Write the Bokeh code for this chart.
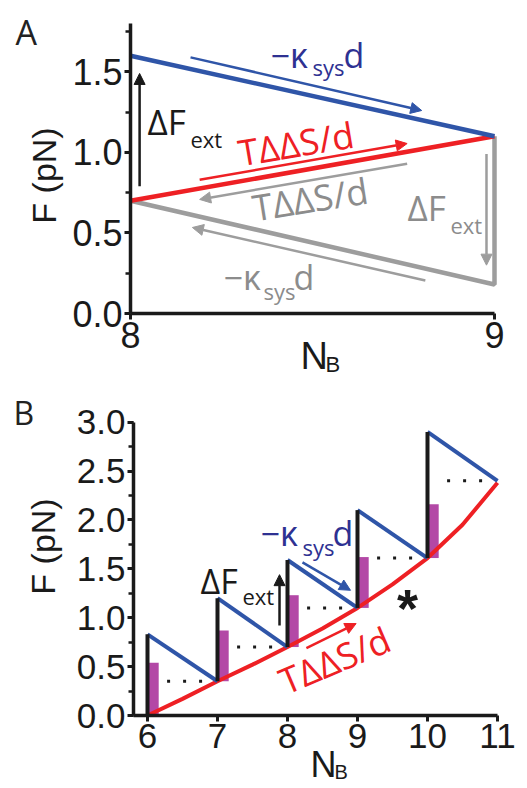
import math
from bokeh.plotting import figure
from bokeh.layouts import column
from bokeh.models import (Label, Arrow, NormalHead, SingleIntervalTicker,
                          Range1d, PrintfTickFormatter)
from bokeh.embed import file_html
from bokeh.resources import INLINE

# ---------------- data: panel A ----------------
A_N = [8, 9]
A_blue = [1.6, 1.1]        # -k_sys d  (after force jump)
A_red = [0.7, 1.1]         # T dd S / d
A_gray = [0.7, 0.18]       # reverse -k_sys d
# arrows (x0, y0, x1, y1)
A_arrow_black = [8.025, 0.79, 8.025, 1.49]
A_arrow_blue = [8.165, 1.59, 8.80, 1.26]
A_arrow_red = [8.19, 0.83, 8.76, 1.055]
A_arrow_gray_t = [8.76, 0.93, 8.19, 0.708]
A_arrow_gray_v = [8.978, 0.99, 8.978, 0.30]
A_arrow_gray_k = [8.81, 0.205, 8.17, 0.534]

# ---------------- data: panel B ----------------
B_red_N = [6, 6.5, 7, 7.5, 8, 8.5, 9, 9.5, 10, 10.5, 11]
B_red_F = [0.0, 0.17, 0.35, 0.52, 0.70, 0.89, 1.10, 1.34, 1.61, 1.95, 2.38]
B_N = [6, 7, 8, 9, 10]
B_low = [0.0, 0.35, 0.70, 1.10, 1.61]      # F before jump
B_top = [0.83, 1.20, 1.59, 2.10, 2.90]     # F after jump
B_next = [0.35, 0.70, 1.10, 1.61, 2.40]    # F at N+1
B_bar = [0.54, 0.87, 1.23, 1.62, 2.16]     # magenta bar tops
B_arrow_black = [7.886, 0.92, 7.886, 1.44]
B_arrow_blue = [8.214, 1.566, 8.90, 1.28]
B_arrow_red = [8.27, 0.69, 8.98, 0.94]

BLUE = "#2f55a8"
BLUE_T = "#2e3192"
RED = "#ee2024"
GRAY = "#9d9d9d"
GRAY_T = "#8c8c8c"
BLACK = "#1a1a1a"
MAG = "#b348a6"
LFONT = "Open Sans"
NFONT = "Liberation Sans"

W = 527
HA = 390
HB = 396


def style_axes(p, xint, yint, fs, xloc, yloc, xb, yb):
    p.xaxis.ticker = SingleIntervalTicker(interval=xint, num_minor_ticks=0)
    p.yaxis.ticker = SingleIntervalTicker(interval=yint, num_minor_ticks=2)
    p.yaxis.formatter = PrintfTickFormatter(format="%.1f")
    p.xaxis.formatter = PrintfTickFormatter(format="%d")
    p.xaxis.fixed_location = xloc
    p.yaxis.fixed_location = yloc
    p.xaxis.bounds = xb
    p.yaxis.bounds = yb
    for ax in (p.xaxis, p.yaxis):
        ax.axis_line_width = 3.5
        ax.axis_line_color = BLACK
        ax.major_tick_line_width = 3
        ax.major_tick_line_color = BLACK
        ax.minor_tick_line_width = 2.5
        ax.minor_tick_line_color = BLACK
        ax.major_tick_in = 0
        ax.major_tick_out = 6
        ax.minor_tick_in = 0
        ax.minor_tick_out = 5
        ax.major_label_text_font = NFONT
        ax.major_label_text_font_size = fs
        ax.major_label_text_color = BLACK
        ax.major_label_standoff = 2
    p.grid.visible = False
    p.outline_line_color = None


def arrow(p, a, color, w=2.5, size=11):
    p.add_layout(Arrow(x_start=a[0], y_start=a[1], x_end=a[2], y_end=a[3],
                       line_color=color, line_width=w,
                       end=NormalHead(size=size, fill_color=color,
                                      line_color=color, line_width=1)))


def lab(p, conv, px, py, text, size, color, font=LFONT, angle=0.0,
        align="left", baseline="alphabetic", style="normal"):
    if baseline == "alphabetic":
        # compensate for the renderer placing alphabetic text low
        d = 0.25 * float(size.replace("px", "")) + 2.5
        px -= math.sin(angle) * d
        py -= math.cos(angle) * d
    x, y = conv(px, py)
    p.add_layout(Label(x=x, y=y, text=text, text_font=font,
                       text_font_size=size, text_color=color,
                       angle=angle, text_align=align, text_baseline=baseline,
                       text_font_style=style))


# ================= Panel A =================
# page pixel -> data mapping (panel A canvas covers page y 0..HA)
def cA(px, py):
    return 8 + (px - 130) / 364.0, (313 - py) / 161.1


ax0, ay1 = cA(0, 0)
ax1, ay0 = cA(W, HA)
pA = figure(width=W, height=HA,
            x_range=Range1d(ax0, ax1), y_range=Range1d(ay0, ay1),
            min_border=0, output_backend="svg", toolbar_location=None)
style_axes(pA, 1, 0.5, "36px", 0, 8, (8, 9), (0, 1.8))

pA.line([A_N[0], A_N[1], A_N[1]], [A_gray[0], A_gray[1], A_red[1]],
        line_color=GRAY, line_width=4.5)
pA.line(A_N, A_red, line_color=RED, line_width=4.5)
pA.line(A_N, A_blue, line_color=BLUE, line_width=4.5)

arrow(pA, A_arrow_black, BLACK)
arrow(pA, A_arrow_blue, BLUE)
arrow(pA, A_arrow_red, RED)
arrow(pA, A_arrow_gray_t, GRAY)
arrow(pA, A_arrow_gray_v, GRAY)
arrow(pA, A_arrow_gray_k, GRAY)

lab(pA, cA, 15, 42, "A", "34px", "#222222")
lab(pA, cA, 270, 65, "\u2212\u03ba", "34px", BLUE_T)
lab(pA, cA, 312, 74, "sys", "22px", BLUE_T)
lab(pA, cA, 343, 65, "d", "34px", BLUE_T)
lab(pA, cA, 147, 132, "\u0394F", "35px", BLACK)
lab(pA, cA, 190, 146, "ext", "22px", BLACK)
lab(pA, cA, 240, 164, "T\u0394\u0394S/d", "36px", RED, angle=math.radians(9.5))
lab(pA, cA, 254, 219, "T\u0394\u0394S/d", "36px", GRAY_T, angle=math.radians(9.0))
lab(pA, cA, 407, 218, "\u0394F", "35px", GRAY_T)
lab(pA, cA, 450, 232, "ext", "22px", GRAY_T)
lab(pA, cA, 223, 287, "\u2212\u03ba", "34px", GRAY_T)
lab(pA, cA, 263, 298, "sys", "22px", GRAY_T)
lab(pA, cA, 293, 287, "d", "34px", GRAY_T)
lab(pA, cA, 43, 175, "F (pN)", "34px", BLACK, font=NFONT,
    angle=math.pi / 2, align="center", baseline="middle")
lab(pA, cA, 300, 367, "N", "38px", BLACK, font=NFONT)
lab(pA, cA, 325, 372, "B", "22px", BLACK, font=NFONT)


# ================= Panel B =================
# page pixel -> data mapping (panel B canvas covers page y HA..HA+HB)
def cB(px, py):
    return 6 + (px - 147) / 70.0, (715 - py) / 97.8


bx0, by1 = cB(0, HA)
bx1, by0 = cB(W, HA + HB)
pB = figure(width=W, height=HB,
            x_range=Range1d(bx0, bx1), y_range=Range1d(by0, by1),
            min_border=0, output_backend="svg", toolbar_location=None)
style_axes(pB, 1, 0.5, "35px", 0, 5.8, (5.8, 11), (0, 3.0))

Nn = [n + 1 for n in B_N]
pB.quad(left=B_N, right=[n + 0.16 for n in B_N], bottom=B_low, top=B_bar,
        fill_color=MAG, line_color=None)
pB.segment(x0=[n + 0.28 for n in B_N], y0=B_next,
           x1=[n + 0.82 for n in B_N], y1=B_next,
           line_color=BLACK, line_width=3, line_dash="3 13")
pB.line(B_red_N, B_red_F, line_color=RED, line_width=4)
pB.segment(x0=B_N, y0=B_top, x1=Nn, y1=B_next, line_color=BLUE, line_width=4)
pB.segment(x0=B_N, y0=B_low, x1=B_N, y1=B_top, line_color=BLACK, line_width=4)

arrow(pB, B_arrow_black, BLACK)
arrow(pB, B_arrow_blue, BLUE)
arrow(pB, B_arrow_red, RED)

lab(pB, cB, 13, 422, "B", "32px", "#222222")
lab(pB, cB, 200, 591, "\u0394F", "34px", BLACK)
lab(pB, cB, 242, 603, "ext", "22px", BLACK)
lab(pB, cB, 260, 543, "\u2212\u03ba", "34px", BLUE_T)
lab(pB, cB, 302, 554, "sys", "22px", BLUE_T)
lab(pB, cB, 332, 543, "d", "34px", BLUE_T)
lab(pB, cB, 285, 693, "T\u0394\u0394S/d", "36px", RED, angle=math.radians(23))
lab(pB, cB, 407, 623, "*", "54px", BLACK, font=NFONT, align="center",
    style="bold")
lab(pB, cB, 42, 546, "F (pN)", "34px", BLACK, font=NFONT,
    angle=math.pi / 2, align="center", baseline="middle")
lab(pB, cB, 310, 775, "N", "36px", BLACK, font=NFONT)
lab(pB, cB, 334, 779, "B", "20px", BLACK, font=NFONT)

layout = column(pA, pB, spacing=0)
open("out.html", "w").write(file_html(layout, INLINE))
